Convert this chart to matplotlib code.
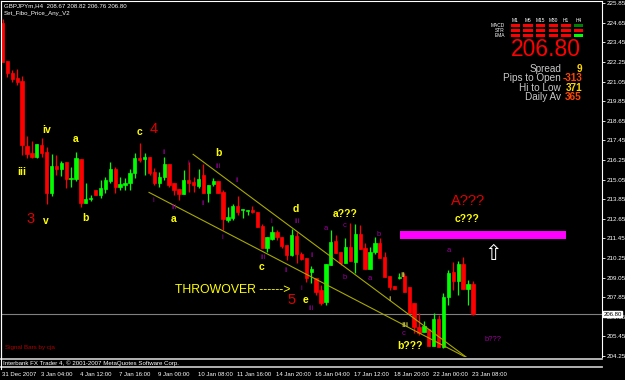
import numpy as np
import matplotlib
matplotlib.use("Agg")
import matplotlib.pyplot as plt
from matplotlib.patches import Rectangle
from matplotlib.lines import Line2D
from matplotlib.transforms import blended_transform_factory

plt.rcParams['font.family'] = ['Liberation Sans', 'DejaVu Sans']
NARROW = ['Liberation Sans Narrow', 'Liberation Sans', 'DejaVu Sans']

W, H = 625, 380

# GBPJPY H4 candles, 31 Dec 2007 .. 23 Jan 2008
opens = [224.64, 222.32, 221.58, 221.27, 221.09, 217.11, 216.68, 216.44, 217.17, 216.74,
         214.23, 215.89, 215.70, 216.13, 215.09, 215.09, 216.31, 213.62, 213.86, 214.42,
         214.11, 214.48, 214.97, 215.70, 214.60, 214.72, 214.84, 215.46, 216.37, 216.31,
         216.44, 215.52, 214.84, 215.21, 216.01, 214.84, 214.48, 214.17, 215.03, 214.90,
         214.66, 215.33, 214.23, 214.78, 214.97, 214.29, 212.58, 212.70, 213.44, 213.19,
         213.16, 213.19, 213.07, 212.21, 210.86, 211.41, 211.84, 211.54, 211.05, 210.43,
         211.60, 210.50, 210.25, 209.40, 209.03, 208.29, 207.56, 209.82, 211.29, 210.62,
         209.94, 210.92, 210.01, 211.72, 210.86, 209.58, 210.62, 211.17, 210.31, 209.15,
         208.54, 209.03, 209.15, 208.48, 207.50, 206.03, 205.72, 205.90, 204.86, 206.52,
         204.80, 207.86, 209.39, 208.84, 209.88, 208.35, 208.67]
highs = [224.89, 222.32, 221.76, 221.83, 221.40, 217.72, 217.42, 217.23, 217.60, 217.05,
         216.62, 216.56, 216.19, 216.13, 215.82, 216.74, 216.31, 214.84, 214.11, 214.42,
         215.03, 215.21, 216.13, 215.82, 215.21, 215.15, 215.70, 216.68, 217.29, 216.68,
         216.44, 215.76, 215.52, 216.44, 216.01, 214.84, 214.48, 215.64, 216.13, 215.21,
         215.70, 216.01, 214.72, 215.15, 214.97, 214.41, 213.37, 213.56, 214.05, 213.25,
         213.19, 213.44, 213.07, 212.33, 211.54, 212.21, 211.97, 211.54, 211.05, 212.03,
         211.84, 210.62, 210.25, 209.76, 209.03, 208.60, 209.88, 211.97, 211.66, 210.62,
         211.48, 212.39, 212.33, 212.27, 211.17, 210.92, 211.54, 211.48, 210.62, 209.15,
         208.54, 209.33, 209.33, 208.48, 207.50, 206.88, 206.39, 205.90, 206.88, 206.76,
         208.11, 209.52, 210.01, 210.07, 210.31, 208.90, 208.82]
lows = [222.25, 221.34, 221.03, 220.85, 216.56, 216.37, 216.37, 216.40, 216.44, 213.56,
        214.05, 215.33, 215.27, 214.54, 214.60, 214.97, 213.37, 213.62, 213.74, 214.11,
        213.93, 214.23, 214.84, 214.23, 214.42, 214.42, 214.42, 215.15, 216.13, 215.33,
        215.33, 214.72, 214.60, 215.03, 214.60, 214.11, 213.80, 214.17, 214.29, 214.29,
        214.54, 214.23, 213.68, 214.66, 214.23, 211.97, 212.46, 212.58, 212.88, 212.70,
        212.88, 213.01, 212.15, 210.86, 210.62, 211.35, 211.35, 210.86, 210.13, 210.37,
        209.94, 210.13, 208.78, 208.72, 207.98, 207.37, 207.37, 209.82, 210.56, 209.82,
        209.94, 210.07, 209.33, 210.80, 209.58, 209.58, 210.50, 210.25, 209.09, 208.29,
        208.35, 208.97, 208.17, 206.88, 205.66, 205.54, 205.72, 204.86, 204.86, 204.80,
        204.74, 207.37, 208.29, 207.98, 208.35, 207.37, 206.76]
closes = [222.25, 221.58, 221.21, 221.03, 217.17, 216.62, 216.44, 217.23, 216.68, 214.23,
          215.89, 215.70, 216.07, 215.09, 215.15, 216.37, 213.62, 213.86, 213.93, 214.11,
          214.54, 215.03, 215.70, 214.60, 214.78, 214.84, 215.46, 216.37, 216.25, 216.44,
          215.46, 214.84, 215.21, 216.01, 214.72, 214.42, 214.17, 215.03, 214.84, 214.72,
          215.09, 214.23, 214.72, 214.97, 214.23, 212.64, 212.76, 213.44, 213.07, 213.25,
          213.19, 213.07, 212.15, 210.86, 211.54, 211.84, 211.54, 210.99, 210.43, 211.66,
          210.50, 210.19, 209.03, 209.60, 208.17, 207.50, 209.88, 211.23, 210.56, 209.94,
          210.92, 210.07, 211.72, 210.80, 209.58, 210.62, 211.17, 210.25, 209.09, 208.48,
          208.35, 209.09, 208.17, 206.88, 206.03, 205.66, 206.09, 204.86, 206.52, 204.80,
          207.86, 209.33, 208.84, 209.88, 208.35, 208.66, 206.80]

time_labels = ["31 Dec 2007", "3 Jan 04:00", "4 Jan 12:00", "7 Jan 16:00", "9 Jan 00:00",
               "10 Jan 08:00", "11 Jan 16:00", "14 Jan 20:00", "16 Jan 04:00",
               "17 Jan 12:00", "18 Jan 20:00", "22 Jan 00:00", "23 Jan 08:00"]
time_label_bars = np.arange(0, 97, 8)

price_ticks = 204.25 + 1.2 * np.arange(19)
bid = 206.80

# channel lines (bar, price) start / end
upper_line = ([38.9, 96.0], [216.60, 203.88])
lower_line = ([29.9, 96.0], [214.27, 203.95])

# fib target box
box_bars = (81.1, 115.1)
box_prices = (211.39, 211.92)

# wave labels: text, bar, price
yellow_labels = [("iii", 3.9, 215.52), ("iv", 8.9, 218.09), ("a", 14.9, 217.57),
                 ("v", 8.9, 212.52), ("b", 16.9, 212.70), ("c", 27.9, 217.94),
                 ("b", 44.0, 216.68), ("a", 35.0, 212.61), ("c", 52.9, 209.73),
                 ("d", 59.9, 213.28), ("a???", 70.0, 212.95), ("e", 61.9, 207.68),
                 ("c???", 94.9, 212.61), ("b???", 83.1, 204.86)]
olive_labels = [("ii", 81.7, 209.21), ("iii", 82.1, 206.09), ("i", 78.9, 207.74)]
red_labels = [("3", 5.8, 212.64), ("4", 30.9, 218.15), ("5", 59.0, 207.68)]
purple_labels = [("ii", 33.0, 216.74), ("i", 37.9, 216.01), ("iii", 44.0, 215.88),
                 ("ii", 47.9, 214.97), ("i", 30.7, 213.80), ("iii", 35.0, 213.37),
                 ("ii", 40.9, 213.56), ("i", 44.8, 211.48), ("i", 54.8, 212.46),
                 ("iii", 53.2, 210.31), ("ii", 57.9, 209.46), ("iii", 60.1, 212.46),
                 ("a", 66.0, 212.03), ("c", 69.9, 212.27), ("b", 76.8, 211.72),
                 ("ii", 63.2, 210.43), ("i", 60.9, 208.41), ("b", 69.9, 209.03),
                 ("a", 75.0, 208.97), ("iii", 63.0, 207.13), ("c", 81.9, 205.60),
                 ("a", 91.1, 210.74), ("b???", 100.1, 205.29)]

# signal panel
timeframes = ["M1", "M5", "M15", "M30", "H1", "H4"]
signal_rows = ["MACD", "STR", "EMA"]
signal_colors = [["#ff0000"] * 5 + ["#008000"],
                 ["#ff0000"] * 5 + ["#ff0000"],
                 ["#ff0000"] * 5 + ["#00ff00"]]
info_names = ["Spread", "Pips to Open", "Hi to Low", "Daily Av"]
info_values = ["9", "-313", "371", "365"]
info_colors = ["#ffd700", "#ff4500", "#ffd700", "#ff4500"]


def fx(x):
    return x / W


def fy(y):
    return 1 - y / H


fig = plt.figure(figsize=(W / 100, H / 100), dpi=100, facecolor="black")
ax = fig.add_axes([fx(1), fy(357), 601 / W, 356 / H], facecolor="black")
ax.set_xlim(-0.31, 122.35)
ax.set_ylim(204.19, 225.99)

o = np.array(opens)
h = np.array(highs)
l = np.array(lows)
c = np.array(closes)
x = np.arange(len(o))
up = c >= o
cols = np.where(up, "#00ff00", "#ff0000")

ax.vlines(x, l, h, colors=cols, lw=0.9, zorder=3)
ax.bar(x, np.abs(c - o), bottom=np.minimum(o, c), width=0.68, color=cols,
       edgecolor=cols, linewidth=0.5, zorder=4)

# bid line
ax.axhline(bid, color="#808080", lw=0.8, zorder=1)

# channel
ax.plot(*upper_line, color="#a8a800", lw=0.8, zorder=5)
ax.plot(*lower_line, color="#a8a800", lw=0.8, zorder=5)

# target box + arrow
ax.add_patch(Rectangle((box_bars[0], box_prices[0]), box_bars[1] - box_bars[0],
                       box_prices[1] - box_prices[0], facecolor="#ff00ff",
                       edgecolor="none", zorder=2))
ax.text(100.2, 210.47, "\u21e7", color="white", fontsize=15, ha="center", va="center",
        family=["DejaVu Sans"])
ax.text(95.0, 213.74, "A???", color="#e00000", fontsize=10.5, ha="center", va="center")

for t, b, p in yellow_labels:
    ax.text(b, p, t, color="#ffff00", fontsize=7.5, fontweight="bold",
            ha="center", va="center", zorder=6)
for t, b, p in olive_labels:
    ax.text(b, p, t, color="#b4b43c", fontsize=6, fontweight="bold",
            ha="center", va="center", zorder=6)
for t, b, p in red_labels:
    ax.text(b, p, t, color="#e00000", fontsize=10.5, ha="center", va="center", zorder=6)
for t, b, p in purple_labels:
    ax.text(b, p, t, color="#9a009a", fontsize=5.5, ha="center", va="center", zorder=6)

ax.text(35.2, 208.29, "THROWOVER ------>", color="#ffff00", fontsize=8.8,
        ha="left", va="center", zorder=6)

# axes frame / price scale
for s in ["left", "top", "right"]:
    ax.spines[s].set_color("white")
    ax.spines[s].set_linewidth(0.8)
ax.spines["bottom"].set_visible(False)
ax.set_xticks([])
ax.yaxis.tick_right()
ax.set_yticks(price_ticks)
ax.set_yticklabels(["%.2f" % v for v in price_ticks], family=NARROW)
ax.tick_params(axis="y", colors="white", labelsize=4.5, length=2, width=0.6, pad=1)
for lab in ax.get_yticklabels():
    lab.set_color("white")

ax.text(1.002, bid, "%.2f" % bid, transform=blended_transform_factory(ax.transAxes, ax.transData),
        fontsize=4.3, color="black", ha="left", va="center", family=NARROW,
        bbox=dict(facecolor="white", edgecolor="white", pad=0.3))

# time scale
tr = blended_transform_factory(ax.transData, fig.transFigure)
for b, t in zip(time_label_bars, time_labels):
    ax.text(b - 0.2, fy(375), t, transform=tr, color="white", fontsize=4.3,
            ha="left", va="center", clip_on=False, family=NARROW)

# bottom status band
for yy in (358.8, 366.5):
    fig.add_artist(Line2D([fx(1), fx(602)], [fy(yy), fy(yy)], color="#c0c0c0", lw=1.3))
fig.add_artist(Line2D([fx(1), fx(1)], [fy(1), fy(369)], color="white", lw=0.8))
fig.text(fx(3), fy(363), "Interbank FX Trader 4, \u00a9 2001-2007 MetaQuotes Software Corp.",
         color="white", fontsize=4.4, ha="left", va="center", family=NARROW,
         bbox=dict(facecolor="black", edgecolor="none", pad=0.3))
fig.text(fx(5), fy(347), "Signal Bars by cja", color="#b00000", fontsize=4.5,
         ha="left", va="center", family=NARROW)

# header
fig.text(fx(4), fy(6), "GBPJPYm,H4  208.67 208.82 206.76 206.80", color="white",
         fontsize=4.4, ha="left", va="center", family=NARROW)
fig.text(fx(4), fy(13), "Set_Fibo_Price_Any_V2", color="white", fontsize=4.4,
         ha="left", va="center", family=NARROW)

# signal bars panel
for j, tf in enumerate(timeframes):
    cx = 515.5 + 12.6 * j
    fig.text(fx(cx), fy(20), tf, color="white", fontsize=3.5, ha="center", va="center",
             family=NARROW)
    for i in range(len(signal_rows)):
        yt = 24.3 + 5 * i
        fig.add_artist(Rectangle((fx(cx - 4.7), fy(yt + 3)), 9.4 / W, 3 / H,
                                 facecolor=signal_colors[i][j], edgecolor="none"))
for i, name in enumerate(signal_rows):
    fig.text(fx(505), fy(25.8 + 5 * i), name, color="white", fontsize=3.5,
             ha="right", va="center", family=NARROW)

fig.text(fx(545.5), fy(49), "%.2f" % bid, color="#ff0000", fontsize=16.5,
         ha="center", va="center")
for i, (n, v) in enumerate(zip(info_names, info_values)):
    yy = 69 + 9.4 * i
    fig.text(fx(561), fy(yy), n, color="#c8c8c8", fontsize=7.2, ha="right", va="center")
    fig.text(fx(582), fy(yy), v, color=info_colors[i], fontsize=7.2, fontweight="bold",
             ha="right", va="center")

fig.savefig("out.png", dpi=100, facecolor="black")
